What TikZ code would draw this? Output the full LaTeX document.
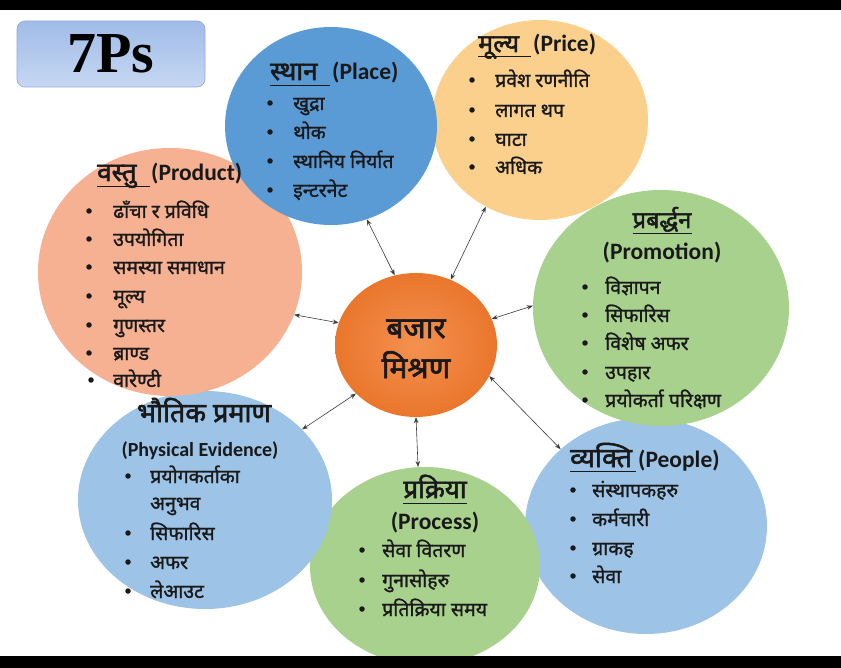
\documentclass[tikz,border=0pt]{standalone}
\usepackage{fontspec}
\usetikzlibrary{shapes.geometric,arrows.meta}
\newfontfamily\devi[Script=Devanagari, FakeBold=1.2]{Noto Sans}
\newfontfamily\devt[Script=Devanagari, FakeBold=2.2]{Noto Sans}
\newfontfamily\eng{Carlito}
\newfontfamily\ser{Liberation Serif}
\definecolor{cplace}{RGB}{91,155,213}
\definecolor{cprice}{RGB}{250,208,140}
\definecolor{cprod}{RGB}{246,176,146}
\definecolor{cgreen}{RGB}{169,209,142}
\definecolor{clblue}{RGB}{157,195,230}
\definecolor{corin}{RGB}{244,145,80}
\definecolor{corout}{RGB}{234,118,44}
\definecolor{ctxt}{RGB}{25,25,25}
\definecolor{carrow}{RGB}{60,60,60}
\definecolor{boxtop}{RGB}{160,188,232}
\definecolor{boxbot}{RGB}{198,215,242}
\definecolor{boxline}{RGB}{143,170,220}
\tikzset{
 circ/.style={shape=ellipse, inner sep=0pt, draw=none},
 conn/.style={draw=carrow, line width=0.6pt, {Stealth[length=6pt,width=4.5pt]}-{Stealth[length=6pt,width=4.5pt]}},
 item/.style={anchor=base west, inner sep=0pt, text=ctxt, font=\devi\fontsize{19.5}{22}\selectfont},
 bul/.style={circle, fill=ctxt, inner sep=0pt, minimum size=5.5pt},
 dtitle/.style={anchor=base west, inner sep=0pt, text=ctxt, font=\devt\fontsize{26}{30}\selectfont},
 etitle/.style={anchor=base west, inner sep=0pt, text=ctxt, font=\eng\bfseries\fontsize{23.5}{26}\selectfont},
 uline/.style={draw=ctxt, line width=0.8pt},
}
% name, bullet x, text x, y (text middle)
\newcommand\itm[5]{%
 \node[bul] (#1b) at (#2,#4) {};
 \node[item] (#1) at ([yshift=-7pt]#3,#4) {#5};}
\begin{document}
\begin{tikzpicture}[x=1pt,y=-1pt]
\useasboundingbox (0,0) rectangle (841,668);
\fill[white] (0,0) rectangle (841,668);
% circles
\node[circ, fill=clblue, minimum width=242pt, minimum height=216pt] (people) at (646,526) {};
\node[circ, fill=cgreen, minimum width=230pt, minimum height=198pt] (process) at (425,566) {};
\node[circ, fill=clblue, minimum width=254pt, minimum height=218pt] (phys) at (205,500) {};
\node[circ, fill=cprod, minimum width=264pt, minimum height=248pt] (product) at (170,272) {};
\node[circ, fill=cgreen, minimum width=256pt, minimum height=236pt] (promo) at (661,308) {};
\node[circ, fill=cprice, minimum width=216pt, minimum height=200pt] (price) at (540,120) {};
\node[circ, fill=cplace, minimum width=212pt, minimum height=198pt] (place) at (331,126) {};
\node[circ, inner color=corin, outer color=corout, minimum width=162pt, minimum height=144pt] (mix) at (416,345) {};
% letterbox bars
\fill[black] (0,0) rectangle (841,10);
\fill[black] (0,656) rectangle (841,668);
% title box
\node[draw=boxline, line width=0.6pt, rounded corners=8pt, top color=boxtop, bottom color=boxbot,
      minimum width=188pt, minimum height=66pt, inner sep=0pt, text=black,
      font=\ser\bfseries\fontsize{58}{60}\selectfont] (title) at (111,54) {7Ps};
% connectors
\draw[conn] (place.-69.4) -- (mix.107.7);
\draw[conn] (price.-122.2) -- (mix.62.1);
\draw[conn] (promo.179.1) -- (mix.19.3);
\draw[conn] (product.-19.2) -- (mix.164.2);
\draw[conn] (phys.36.4) -- (mix.219.3);
\draw[conn] (process.94) -- (mix.-90.7);
\draw[conn] (people.138.1) -- (mix.-23.4);
% center text
\node[anchor=base, inner sep=0pt, text=ctxt, font=\devt\fontsize{30}{34}\selectfont] (mix1) at (416,338) {बजार};
\node[anchor=base, inner sep=0pt, text=ctxt, font=\devt\fontsize{30}{34}\selectfont] (mix2) at (416,378) {मिश्रण};
% Place
\node[dtitle] (tpl) at (270,80) {स्थान};
\node[etitle] (epl) at (332,80) {(Place)};
\draw[uline] ([yshift=-5pt]tpl.base west) -- ([yshift=-5pt,xshift=-2pt]epl.base west);
\itm{pl1}{270}{293}{103}{खुद्रा}
\itm{pl2}{270}{293}{132}{थोक}
\itm{pl3}{270}{293}{161}{स्थानिय निर्यात}
\itm{pl4}{270}{293}{190}{इन्टरनेट}
% Price
\node[dtitle, font=\devt\fontsize{25}{30}\selectfont] (tpr) at (478,52) {मूल्य};
\node[etitle] (epr) at (533,52) {(Price)};
\draw[uline] ([yshift=-4pt]tpr.base west) -- ([yshift=-4pt,xshift=-2pt]epr.base west);
\itm{pr1}{472}{495}{80}{प्रवेश रणनीति}
\itm{pr2}{472}{495}{110}{लागत थप}
\itm{pr3}{472}{495}{139}{घाटा}
\itm{pr4}{472}{495}{167}{अधिक}
% Product
\node[dtitle] (tpd) at (97,181) {वस्तु};
\node[etitle] (epd) at (151,181) {(Product)};
\draw[uline] ([yshift=-5pt]tpd.base west) -- ([yshift=-5pt,xshift=-1pt]epd.base west);
\itm{pd1}{89}{113}{211}{ढाँचा र प्रविधि}
\itm{pd2}{89}{113}{239}{उपयोगिता}
\itm{pd3}{89}{113}{267}{समस्या समाधान}
\itm{pd4}{89}{113}{296}{मूल्य}
\itm{pd5}{89}{113}{325}{गुणस्तर}
\itm{pd6}{89}{113}{353}{ब्राण्ड}
\itm{pd7}{91}{113}{380}{वारेण्टी}
% Promotion
\node[dtitle, anchor=base, font=\devt\fontsize{23.5}{28}\selectfont] (tpm) at (662,228) {प्रबर्द्धन};
\draw[uline] ([yshift=-5pt]tpm.base west) -- ([yshift=-5pt]tpm.base east);
\node[etitle, anchor=base] (epm) at (662,260) {(Promotion)};
\itm{pm1}{585}{605}{287}{विज्ञापन}
\itm{pm2}{585}{605}{315}{सिफारिस}
\itm{pm3}{585}{605}{343}{विशेष अफर}
\itm{pm4}{585}{605}{372}{उपहार}
\itm{pm5}{585}{605}{400}{प्रयोकर्ता परिक्षण}
% Physical Evidence
\node[dtitle, anchor=base, font=\devt\fontsize{27}{30}\selectfont] (tph) at (204,422) {भौतिक प्रमाण};
\node[etitle, anchor=base, font=\eng\bfseries\fontsize{20}{24}\selectfont] (eph) at (200,456) {(Physical Evidence)};
\itm{ph1}{128}{150}{476}{प्रयोगकर्ताका}
\node[item] (ph1x) at (150,510) {अनुभव};
\itm{ph2}{128}{150}{533}{सिफारिस}
\itm{ph3}{128}{150}{562}{अफर}
\itm{ph4}{128}{150}{591}{लेआउट}
% Process
\node[dtitle, anchor=base] (tps) at (435,498) {प्रक्रिया};
\draw[uline] ([yshift=-5pt]tps.base west) -- ([yshift=-5pt]tps.base east);
\node[etitle, anchor=base] (eps) at (435,529) {(Process)};
\itm{ps1}{362}{382}{550}{सेवा वितरण}
\itm{ps2}{362}{382}{580}{गुनासोहरु}
\itm{ps3}{362}{382}{609}{प्रतिक्रिया समय}
% People
\node[dtitle, font=\devt\fontsize{27}{30}\selectfont] (tpe) at (570,467) {व्यक्ति};
\node[etitle] (epe) at (638,467) {(People)};
\draw[uline] ([yshift=-4pt]tpe.base west) -- ([yshift=-4pt,xshift=-2pt]epe.base west);
\itm{pe1}{573}{592}{490}{संस्थापकहरु}
\itm{pe2}{573}{592}{519}{कर्मचारी}
\itm{pe3}{573}{592}{548}{ग्राकह}
\itm{pe4}{573}{592}{576}{सेवा}
\end{tikzpicture}
\end{document}
